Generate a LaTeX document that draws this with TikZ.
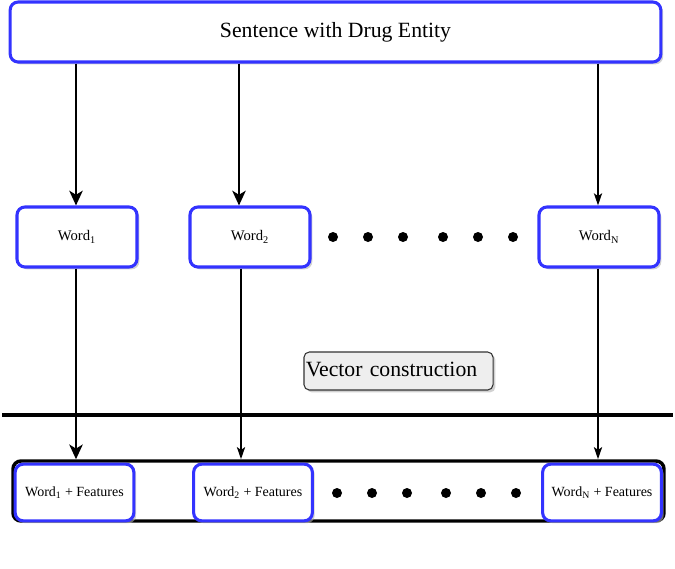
\documentclass[tikz,border=0pt]{standalone}
\usepackage{fontspec}
\setmainfont{Liberation Serif}
\newfontfamily\tnr{Liberation Serif}
\usetikzlibrary{arrows.meta,shadows}
\definecolor{bblue}{HTML}{3333FF}
\definecolor{vgray}{HTML}{EEEEEE}
\tikzset{
  shad/.style={drop shadow={shadow xshift=1.8pt,shadow yshift=-1.8pt,fill=black!30,opacity=0.6}},
  bluebox/.style={draw=bblue,line width=2.3pt,rounded corners=6pt,fill=white,shad,align=center},
  wordbox/.style={bluebox,minimum width=90pt,minimum height=45pt,font=\tnr\fontsize{11}{13}\selectfont},
  featbox/.style={bluebox,minimum width=89pt,minimum height=42.5pt,font=\tnr\fontsize{10.5}{12}\selectfont},
  conn/.style={line width=2.1pt},
  bigarr/.style={conn,-{Stealth[length=11pt,width=10pt,inset=3pt]}},
  smallarr/.style={conn,-{Stealth[length=9pt,width=6pt,inset=2pt]}},
  dotc/.style={circle,fill=black,inner sep=0pt,minimum size=7.5pt}
}
\begin{document}
\begin{tikzpicture}[x=0.75pt,y=-0.75pt,font=\tnr]
\useasboundingbox (0,0) rectangle (675,568);
% top
\node[bluebox,minimum width=488pt,minimum height=45pt,font=\tnr\fontsize{16.3}{19}\selectfont] (top) at (335.5,32) {Sentence with Drug Entity};
% words
\node[wordbox] (w1) at (77,237) {Word\textsubscript{1}};
\node[wordbox] (w2) at (250,237) {Word\textsubscript{2}};
\node[wordbox] (wn) at (599,237) {Word\textsubscript{N}};
\foreach \i/\x in {1/333,2/368,3/403,4/443,5/478,6/513} \node[dotc] (da\i) at (\x,237) {};
% separator line
\coordinate (hl) at (2,415);
\coordinate (hr) at (673,415);
\draw[line width=2.4pt] (hl) -- (hr);
% vector construction
\node[draw=black!80,line width=0.8pt,fill=vgray,rounded corners=4pt,shad,minimum width=141.75pt,minimum height=28.5pt,text width=139pt,align=left,font=\tnr\fontsize{16.3}{19}\selectfont,inner sep=1.4pt] (vc) at (398.5,371) {\raisebox{2pt}{Vector construction}};
% bottom container
\node[draw=black,line width=2.6pt,rounded corners=6pt,minimum width=488.25pt,minimum height=45pt] (bot) at (338.5,491) {};
\node[featbox] (f1) at (74.5,492.5) {Word\textsubscript{1} + Features};
\node[featbox] (f2) at (253,492.5) {Word\textsubscript{2} + Features};
\node[featbox] (fn) at (602,492.5) {Word\textsubscript{N} + Features};
\foreach \i/\x in {1/337,2/372,3/407,4/446,5/481,6/516} \node[dotc] (db\i) at (\x,493) {};
% arrows top -> words
\draw[bigarr] (top.south -| 76,0) -- (w1.north -| 76,0);
\draw[bigarr] (top.south -| 239,0) -- (w2.north -| 239,0);
\draw[smallarr] (top.south -| 598,0) -- (wn.north -| 598,0);
% arrows words -> bottom
\draw[bigarr] (w1.south -| 76,0) -- (bot.north -| 76,0);
\draw[smallarr] (w2.south -| 241,0) -- (bot.north -| 241,0);
\draw[smallarr] (wn.south -| 598,0) -- (bot.north -| 598,0);
\end{tikzpicture}
\end{document}
